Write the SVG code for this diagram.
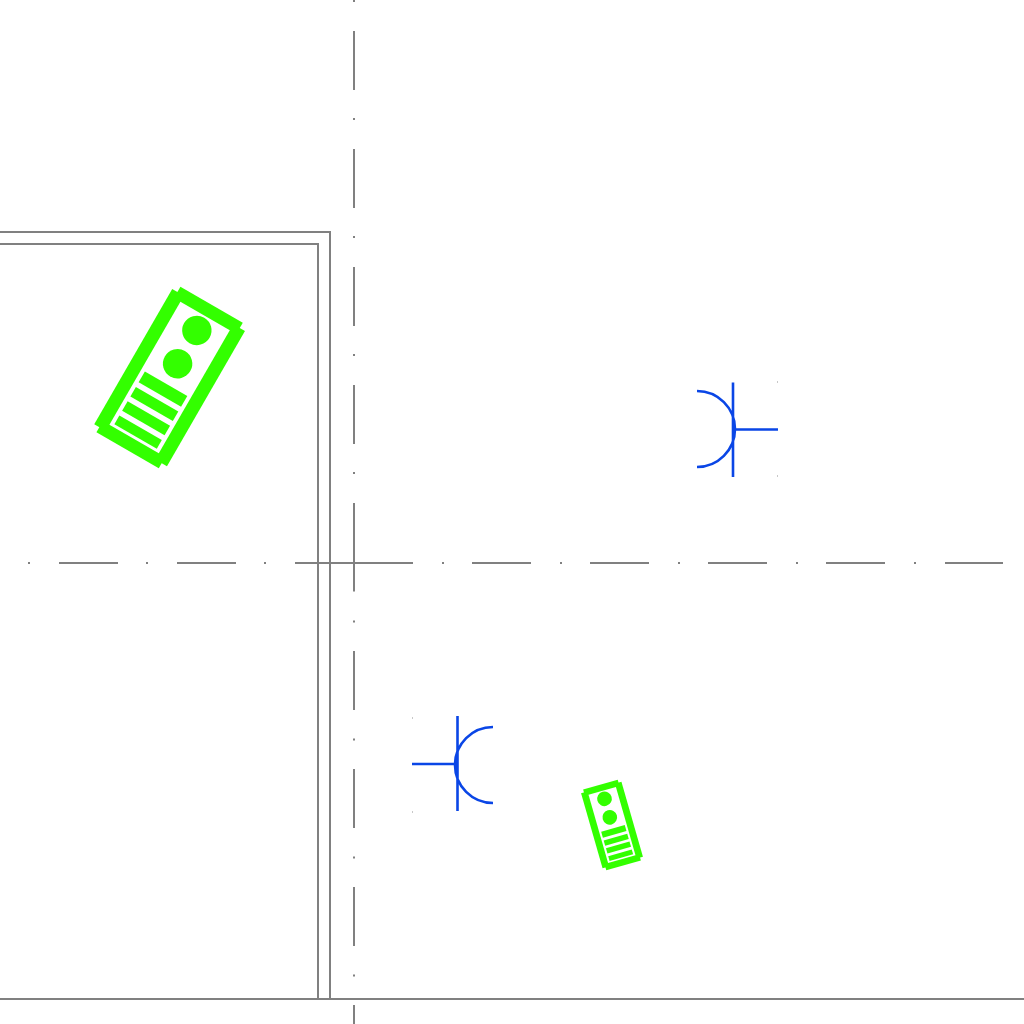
<svg xmlns="http://www.w3.org/2000/svg" width="1024" height="1024" viewBox="0 0 1024 1024">
  <style>
    .wall { fill: none; stroke: #808080; stroke-width: 2; }
    .axis { fill: none; stroke: #808080; stroke-width: 2; }
    .sym { fill: none; stroke: #0a46e6; stroke-width: 2.6; }
    .speck { fill: #c8c8c8; }
    .dev { fill: #33ff00; }
    .hole { fill: #ffffff; }
  </style>
  <defs>
    <g id="device">
      <rect class="dev" x="-42" y="-78" width="84" height="156"/>
      <rect class="dev" x="-36" y="-84" width="72" height="168"/>
      <rect class="hole" x="-28.5" y="-71" width="57" height="142"/>
      <circle class="dev" cx="0" cy="-54.5" r="14.7"/>
      <circle class="dev" cx="0" cy="-16" r="14.7"/>
      <rect class="dev" x="-24.5" y="7" width="49" height="12.5"/>
      <rect class="dev" x="-24.5" y="25" width="49" height="11"/>
      <rect class="dev" x="-24.5" y="41.5" width="49" height="11"/>
      <rect class="dev" x="-24.5" y="58" width="49" height="10"/>
    </g>
  </defs>
  <rect width="1024" height="1024" fill="#ffffff"/>
  <g id="walls">
    <path class="wall" d="M0 232H330V999M0 244H318V999M0 999H1024"/>
  </g>
  <g id="axes">
    <path class="axis" d="M354 31V90M354 149V208M354 267V326M354 385V444M354 503V591.500M354 651V710M354 769V828M354 887V946M354 1005V1024"/>
    <path class="axis" d="M354 0V2M354 118V120M354 236V238M354 354V356M354 472V474M354 620.500V622.500M354 738.500V740.500M354 856.500V858.500M354 974.500V976.500"/>
    <path class="axis" d="M59 563H118M177 563H236M295 563H413M472 563H531M590 563H649M708 563H767M826 563H885M945 563H1003"/>
    <path class="axis" d="M28 563H30M146 563H148M264 563H266M442 563H444M560 563H562M678 563H680M796 563H798M914 563H916"/>
  </g>
  <g id="device-large">
    <use href="#device" transform="translate(169.600 377.600) rotate(30)"/>
  </g>
  <g id="device-small">
    <use href="#device" transform="translate(612 825) rotate(-16) scale(0.5)"/>
  </g>
  <g id="symbol-right">
    <path class="sym" d="M733 382.500V477M733 429.500H778M697 391A38 38 0 0 1 697 467"/>
    <rect class="speck" x="777" y="381" width="1" height="2"/>
    <rect class="speck" x="777" y="475" width="1" height="2"/>
  </g>
  <g id="symbol-left">
    <path class="sym" d="M457.500 716V811M412 764H457.500M493 727A38 38 0 0 0 493 803"/>
    <rect class="speck" x="412" y="717" width="1" height="2"/>
    <rect class="speck" x="412" y="811" width="1" height="2"/>
  </g>
</svg>
